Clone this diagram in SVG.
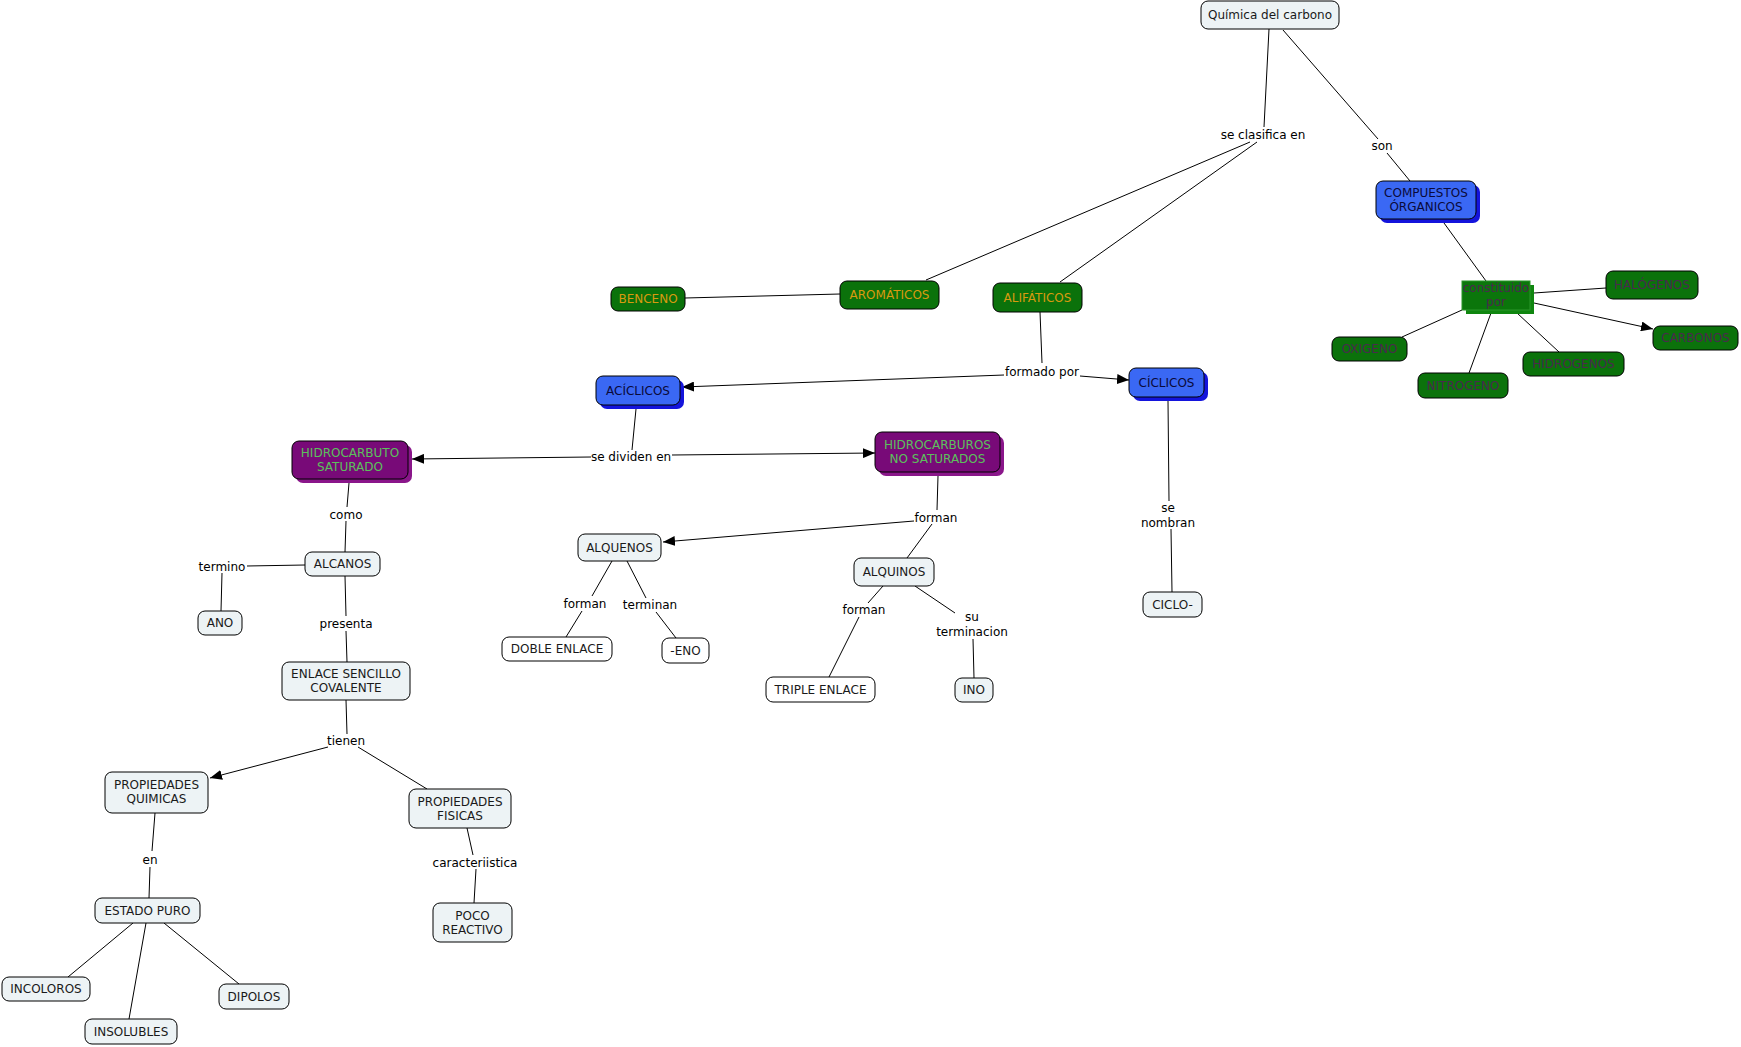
<svg xmlns="http://www.w3.org/2000/svg" width="1741" height="1047" viewBox="0 0 1741 1047">
<defs>
<marker id="ah" viewBox="0 0 12 10" refX="12" refY="5" markerWidth="12" markerHeight="10" markerUnits="userSpaceOnUse" orient="auto">
<path d="M0,0 L12,5 L0,10 z" fill="#000"/>
</marker>
<style>
text{font-family:"DejaVu Sans","Verdana",sans-serif;font-size:12px;text-anchor:middle;}
.lt rect{fill:#edf3f5;stroke:#000;stroke-width:1;}
.wh rect{fill:#ffffff;stroke:#000;stroke-width:1;}
.lt text,.wh text{fill:#1a1a1a;}
.gr rect{fill:#0b720b;stroke:#000;stroke-width:1;}
.gro text{fill:#d89a10;}
.grd text{fill:#4a2a4e;}
.bl .sh{fill:#1414dc;stroke:none;}
.bl .mn{fill:#3a68f4;stroke:#000;stroke-width:1;}
.bl text{fill:#0a0a3a;}
.pu .sh{fill:#8a168a;stroke:none;}
.pu .mn{fill:#780a78;stroke:#000;stroke-width:1;}
.pu text{fill:#5cc05c;}
.cn line{stroke:#000;stroke-width:1;fill:none;}
.cn .ar{marker-end:url(#ah);}
.lb text{fill:#000;}
</style>
</defs>
<rect width="1741" height="1047" fill="#fff"/>
<g class="cn" id="connectors">
<line x1="1269" y1="29" x2="1264" y2="127"/>
<line x1="1250" y1="142" x2="926" y2="280"/>
<line x1="1257" y1="142" x2="1060" y2="282"/>
<line x1="1283" y1="30" x2="1378" y2="139"/>
<line x1="1387" y1="153" x2="1410" y2="181"/>
<line x1="1444" y1="223" x2="1486" y2="281"/>
<line x1="1534" y1="293" x2="1606" y2="288"/>
<line class="ar" x1="1534" y1="303" x2="1653" y2="329"/>
<line x1="1517" y1="313" x2="1559" y2="352"/>
<line x1="1491" y1="313" x2="1469" y2="373"/>
<line x1="1462" y1="310" x2="1402" y2="337"/>
<line x1="685" y1="298" x2="840" y2="294"/>
<line x1="1040" y1="312" x2="1042" y2="363"/>
<line class="ar" x1="1004" y1="375" x2="682" y2="387"/>
<line class="ar" x1="1080" y1="376" x2="1129" y2="380"/>
<line x1="636" y1="409" x2="632" y2="450"/>
<line class="ar" x1="591" y1="457" x2="412" y2="459"/>
<line class="ar" x1="672" y1="455" x2="875" y2="453"/>
<line x1="349" y1="483" x2="347" y2="507"/>
<line x1="346" y1="521" x2="345" y2="552"/>
<line x1="305" y1="565" x2="247" y2="566"/>
<line x1="222" y1="573" x2="221" y2="611"/>
<line x1="345" y1="576" x2="346" y2="616"/>
<line x1="346" y1="631" x2="347" y2="662"/>
<line x1="938" y1="476" x2="937" y2="510"/>
<line class="ar" x1="914" y1="521" x2="663" y2="542"/>
<line x1="932" y1="524" x2="907" y2="558"/>
<line x1="612" y1="561" x2="592" y2="596"/>
<line x1="582" y1="611" x2="566" y2="637"/>
<line x1="627" y1="561" x2="646" y2="598"/>
<line x1="656" y1="612" x2="676" y2="638"/>
<line x1="883" y1="586" x2="868" y2="603"/>
<line x1="859" y1="617" x2="829" y2="677"/>
<line x1="915" y1="586" x2="955" y2="613"/>
<line x1="973" y1="639" x2="974" y2="678"/>
<line x1="1168" y1="401" x2="1169" y2="501"/>
<line x1="1171" y1="529" x2="1172" y2="592"/>
<line x1="346" y1="700" x2="347" y2="734"/>
<line class="ar" x1="328" y1="747" x2="210" y2="778"/>
<line x1="358" y1="747" x2="427" y2="789"/>
<line x1="155" y1="813" x2="152" y2="851"/>
<line x1="150" y1="867" x2="149" y2="898"/>
<line x1="467" y1="828" x2="473" y2="855"/>
<line x1="476" y1="869" x2="474" y2="903"/>
<line x1="133" y1="923" x2="68" y2="977"/>
<line x1="146" y1="923" x2="129" y2="1019"/>
<line x1="164" y1="923" x2="239" y2="984"/>
</g>
<g class="lb" id="linking-phrases">
<text x="1263" y="139">se clasifica en</text>
<text x="1382" y="150">son</text>
<text x="1042" y="376">formado por</text>
<text x="631" y="461">se dividen en</text>
<text x="346" y="519">como</text>
<text x="222" y="571">termino</text>
<text x="346" y="628">presenta</text>
<text x="936" y="522">forman</text>
<text x="585" y="608">forman</text>
<text x="650" y="609">terminan</text>
<text x="864" y="614">forman</text>
<text x="972" y="621">su</text>
<text x="972" y="636">terminacion</text>
<text x="1168" y="512">se</text>
<text x="1168" y="527">nombran</text>
<text x="346" y="745">tienen</text>
<text x="150" y="864">en</text>
<text x="475" y="867">caracteriistica</text>
</g>
<g id="quimica-del-carbono" class="lt"><rect x="1201" y="1" width="138" height="28" rx="7"/><text x="1270" y="19">Química del carbono</text></g>
<g id="compuestos-organicos" class="bl"><rect class="sh" x="1380" y="185" width="100" height="38" rx="7"/><rect class="mn" x="1376" y="181" width="100" height="38" rx="7"/><text x="1426" y="197">COMPUESTOS</text><text x="1426" y="211">ÓRGANICOS</text></g>
<g id="constituido-por" class="grd"><rect x="1466" y="285" width="68" height="29" fill="#0f860f" stroke="none"/><rect x="1462" y="281" width="68" height="29" fill="#0b760b" stroke="#2a962a" stroke-width="1"/><text x="1496" y="292">constituido</text><text x="1496" y="306">por</text></g>
<g id="halogenos" class="gr grd"><rect x="1606" y="271" width="92" height="28" rx="7"/><text x="1652" y="289">HALÓGENOS</text></g>
<g id="carbonos" class="gr grd"><rect x="1653" y="326" width="85" height="24" rx="7"/><text x="1695.5" y="342">CARBONOS</text></g>
<g id="hidrogenos" class="gr grd"><rect x="1523" y="352" width="101" height="24" rx="7"/><text x="1573.5" y="368">HIDROGENOS</text></g>
<g id="nitrogeno" class="gr grd"><rect x="1418" y="373" width="90" height="25" rx="7"/><text x="1463" y="390">NITROGENO</text></g>
<g id="oxigeno" class="gr grd"><rect x="1332" y="337" width="75" height="24" rx="7"/><text x="1369.5" y="353">OXIGENO</text></g>
<g id="benceno" class="gr gro"><rect x="611" y="287" width="74" height="24" rx="7"/><text x="648" y="303">BENCENO</text></g>
<g id="aromaticos" class="gr gro"><rect x="840" y="281" width="99" height="28" rx="7"/><text x="889.5" y="299">AROMÁTICOS</text></g>
<g id="alifaticos" class="gr gro"><rect x="993" y="283" width="89" height="29" rx="7"/><text x="1037.5" y="302">ALIFÁTICOS</text></g>
<g id="aciclicos" class="bl"><rect class="sh" x="600" y="380" width="84" height="29" rx="7"/><rect class="mn" x="596" y="376" width="84" height="29" rx="7"/><text x="638" y="395">ACÍCLICOS</text></g>
<g id="ciclicos" class="bl"><rect class="sh" x="1133" y="372" width="75" height="29" rx="7"/><rect class="mn" x="1129" y="368" width="75" height="29" rx="7"/><text x="1166.5" y="387">CÍCLICOS</text></g>
<g id="hidrocarbuto-saturado" class="pu"><rect class="sh" x="296" y="445" width="116" height="38" rx="7"/><rect class="mn" x="292" y="441" width="116" height="38" rx="7"/><text x="350" y="457">HIDROCARBUTO</text><text x="350" y="471">SATURADO</text></g>
<g id="hidrocarburos-no-saturados" class="pu"><rect class="sh" x="879" y="436" width="125" height="40" rx="7"/><rect class="mn" x="875" y="432" width="125" height="40" rx="7"/><text x="937.5" y="449">HIDROCARBUROS</text><text x="937.5" y="463">NO SATURADOS</text></g>
<g id="alcanos" class="lt"><rect x="305" y="552" width="75" height="24" rx="7"/><text x="342.5" y="568">ALCANOS</text></g>
<g id="ano" class="lt"><rect x="198" y="611" width="44" height="24" rx="7"/><text x="220" y="627">ANO</text></g>
<g id="enlace-sencillo" class="lt"><rect x="282" y="662" width="128" height="38" rx="7"/><text x="346" y="678">ENLACE SENCILLO</text><text x="346" y="692">COVALENTE</text></g>
<g id="alquenos" class="lt"><rect x="578" y="534" width="83" height="27" rx="7"/><text x="619.5" y="552">ALQUENOS</text></g>
<g id="doble-enlace" class="wh"><rect x="502" y="637" width="110" height="24" rx="7"/><text x="557" y="653">DOBLE ENLACE</text></g>
<g id="eno" class="wh"><rect x="662" y="638" width="47" height="25" rx="7"/><text x="685.5" y="655">-ENO</text></g>
<g id="alquinos" class="lt"><rect x="854" y="558" width="80" height="28" rx="7"/><text x="894" y="576">ALQUINOS</text></g>
<g id="triple-enlace" class="wh"><rect x="766" y="677" width="109" height="25" rx="7"/><text x="820.5" y="694">TRIPLE ENLACE</text></g>
<g id="ino" class="lt"><rect x="955" y="678" width="38" height="24" rx="7"/><text x="974" y="694">INO</text></g>
<g id="ciclo" class="lt"><rect x="1143" y="592" width="59" height="25" rx="7"/><text x="1172.5" y="609">CICLO-</text></g>
<g id="propiedades-quimicas" class="lt"><rect x="105" y="772" width="103" height="41" rx="7"/><text x="156.5" y="789">PROPIEDADES</text><text x="156.5" y="803">QUIMICAS</text></g>
<g id="propiedades-fisicas" class="lt"><rect x="409" y="789" width="102" height="39" rx="7"/><text x="460" y="806">PROPIEDADES</text><text x="460" y="820">FISICAS</text></g>
<g id="estado-puro" class="lt"><rect x="95" y="898" width="105" height="25" rx="7"/><text x="147.5" y="915">ESTADO PURO</text></g>
<g id="poco-reactivo" class="lt"><rect x="433" y="903" width="79" height="39" rx="7"/><text x="472.5" y="920">POCO</text><text x="472.5" y="934">REACTIVO</text></g>
<g id="incoloros" class="lt"><rect x="2" y="977" width="88" height="24" rx="7"/><text x="46" y="993">INCOLOROS</text></g>
<g id="insolubles" class="lt"><rect x="85" y="1019" width="92" height="25" rx="7"/><text x="131" y="1036">INSOLUBLES</text></g>
<g id="dipolos" class="lt"><rect x="219" y="984" width="70" height="25" rx="7"/><text x="254" y="1001">DIPOLOS</text></g>
</svg>
